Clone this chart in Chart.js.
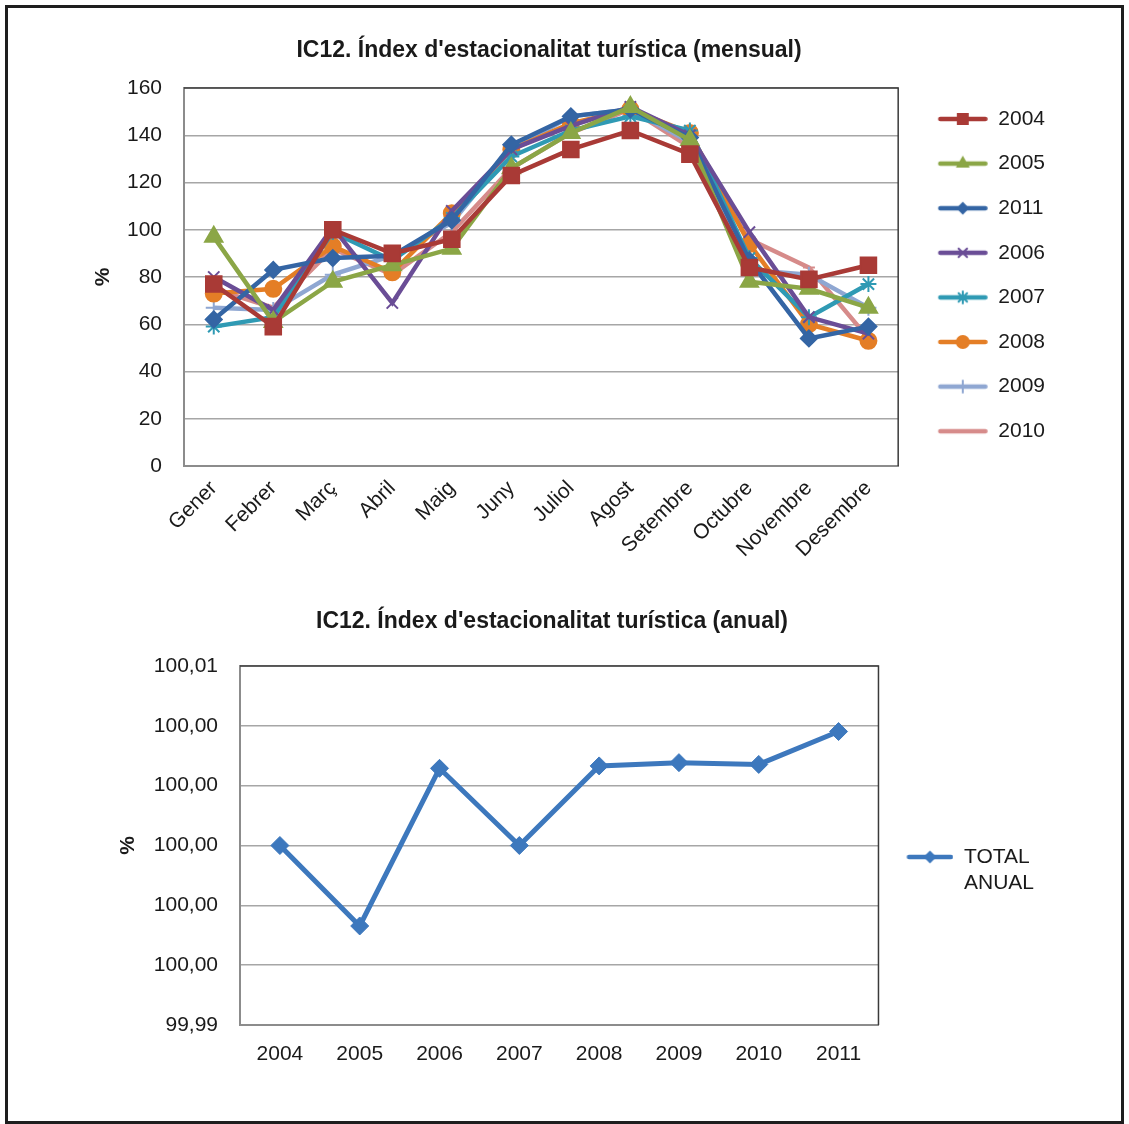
<!DOCTYPE html>
<html>
<head>
<meta charset="utf-8">
<script src="https://cdn.jsdelivr.net/npm/chart.js@4.4.1/dist/chart.umd.min.js"></script>
<style>
  html, body { margin: 0; padding: 0; background: #fff; }
  #frame { position: absolute; left: 5px; top: 5px; width: 1113px; height: 1113px; border: 3px solid #1e1e1e; }
  .box { position: absolute; }
  #boxMensual { left: 43px; top: 20px; width: 1012px; height: 566px; }
  #boxAnual { left: 60px; top: 592px; width: 984px; height: 493px; }
</style>
</head>
<body>
<div id="frame"></div>
<div class="box" id="boxMensual"><canvas id="chartMensual"></canvas></div>
<div class="box" id="boxAnual"><canvas id="chartAnual"></canvas></div>
<script>
// --- dades ---
const mesos = ['Gener', 'Febrer', 'Març', 'Abril', 'Maig', 'Juny', 'Juliol', 'Agost', 'Setembre', 'Octubre', 'Novembre', 'Desembre'];
const anys = ['2004', '2005', '2011', '2006', '2007', '2008', '2009', '2010'];
const v2004 = [77, 59, 100, 90, 96, 123, 134, 142, 132, 84, 79, 85];
const v2005 = [97, 61, 78, 85, 92, 126, 141, 152, 138, 78, 75, 67];
const v2011 = [62, 83, 88, 89, 104, 136, 148, 151, 139, 87, 54, 59];
const v2006 = [80, 66, 101, 69, 108, 134, 144, 152, 140, 99, 63, 56];
const v2007 = [59, 63, 99, 87, 105, 131, 142, 148, 142, 88, 63, 77];
const v2008 = [73, 75, 93, 82, 107, 134, 145, 151, 141, 94, 60, 53];
const v2009 = [67, 66, 81, 89, 103, 134, 148, 151, 137, 83, 81, 67];
const v2010 = [75, 67, 92, 81, 99, 126, 141, 151, 135, 96, 84, 54];
const yTicksMensual = [0, 20, 40, 60, 80, 100, 120, 140, 160];

const anysAnual = ['2004', '2005', '2006', '2007', '2008', '2009', '2010', '2011'];
const totalAnual = [100.0000, 99.99731, 100.00258, 100.0000, 100.00266, 100.00277, 100.00271, 100.00381];
const yTicksAnual = [99.994, 99.996, 99.998, 100.000, 100.002, 100.004, 100.006];
const yTickLabelsAnual = ['99,99', '100,00', '100,00', '100,00', '100,00', '100,00', '100,01'];

Chart.defaults.font.family = "'Liberation Sans', Arial, sans-serif";
Chart.defaults.font.size = 21;
Chart.defaults.color = '#1a1a1a';
Chart.defaults.animation = false;

const estils = [
  { data: v2004, color: '#A93A36', point: 'rect', r: 11, lr: 7 },
  { data: v2005, color: '#8BA646', point: 'triangle', r: 10, lr: 6 },
  { data: v2011, color: '#3465A4', point: 'rectRot', r: 8, lr: 5 },
  { data: v2006, color: '#6A4D96', point: 'crossRot', r: 8, lr: 6 },
  { data: v2007, color: '#2F9AB4', point: 'star', r: 8, lr: 6 },
  { data: v2008, color: '#E47E26', point: 'circle', r: 8, lr: 6 },
  { data: v2009, color: '#8FA7D2', point: 'cross', r: 8, lr: 6 },
  { data: v2010, color: '#D68B8A', point: 'line', r: 6, lr: 0 }
];

// icona de llegenda: línia + marcador
function legendIcon(color, style, radius, lead, len) {
  const c = document.createElement('canvas');
  c.width = lead + len;
  c.height = 22;
  const g = c.getContext('2d');
  g.strokeStyle = color;
  g.fillStyle = color;
  g.lineWidth = 4.5;
  g.lineCap = 'round';
  g.beginPath();
  g.moveTo(lead + 2.5, 11);
  g.lineTo(lead + len - 2.5, 11);
  g.stroke();
  if (style && radius > 0) {
    g.lineWidth = 2;
    Chart.helpers.drawPoint(g, { pointStyle: style, radius: radius, borderWidth: 2, rotation: 0 }, lead + len / 2, 11);
  }
  return c;
}

const marcPla = {
  id: 'marcPla',
  beforeDatasetsDraw(chart) {
    const { ctx, chartArea: a } = chart;
    ctx.save();
    ctx.strokeStyle = '#3a3a3a';
    ctx.lineWidth = 1.5;
    ctx.beginPath();
    ctx.moveTo(a.left, a.top);
    ctx.lineTo(a.right, a.top);
    ctx.lineTo(a.right, a.bottom);
    ctx.stroke();
    ctx.restore();
  }
};

new Chart(document.getElementById('chartMensual'), {
  type: 'line',
  data: {
    labels: mesos,
    datasets: estils.map((s, i) => ({
      label: anys[i],
      data: s.data,
      borderColor: s.color,
      backgroundColor: s.color,
      borderWidth: 4.5,
      pointStyle: s.point,
      pointRadius: s.r,
      pointBorderWidth: 2,
      pointBackgroundColor: s.color,
      pointBorderColor: s.color,
      tension: 0,
      legendIcon: legendIcon(s.color, s.point, s.lr, 16, 50)
    }))
  },
  options: {
    responsive: true,
    maintainAspectRatio: false,
    layout: { padding: 0 },
    plugins: {
      title: {
        display: true,
        text: "IC12. Índex d'estacionalitat turística (mensual)",
        font: { size: 23, weight: 'bold' },
        color: '#1a1a1a',
        padding: { top: 17.2, bottom: 23.2 }
      },
      legend: {
        position: 'right',
        align: 'start',
        fullSize: true,
        title: { display: true, text: ' ', padding: { top: 39.7, bottom: 0 } },
        labels: {
          usePointStyle: true,
          pointStyleWidth: 66,
          padding: 23.6,
          color: '#1a1a1a',
          generateLabels(chart) {
            return chart.data.datasets.map((d, i) => ({
              text: d.label,
              pointStyle: d.legendIcon,
              fillStyle: 'transparent',
              strokeStyle: 'transparent',
              lineWidth: 0,
              hidden: false,
              datasetIndex: i,
              fontColor: '#1a1a1a'
            }));
          }
        }
      },
      tooltip: { enabled: false }
    },
    scales: {
      x: {
        offset: true,
        grid: { display: false, drawTicks: false },
        border: { display: true, color: '#8c8c8c', width: 2 },
        ticks: { minRotation: 45, maxRotation: 45, padding: 10, color: '#1a1a1a', autoSkip: false },
        afterFit(scale) { scale.height = 120; }
      },
      y: {
        min: 0,
        max: 160,
        grid: { color: '#a6a6a6', lineWidth: 1.5, drawTicks: false },
        border: { display: true, color: '#8c8c8c', width: 2 },
        ticks: { padding: 22, color: '#1a1a1a' },
        afterBuildTicks(scale) { scale.ticks = yTicksMensual.map(v => ({ value: v })); },
        title: { display: true, text: '%', font: { size: 21, weight: 'bold' }, padding: { top: 47.4, bottom: 0 } },
        afterFit(scale) { scale.width = 141; }
      }
    }
  },
  plugins: [marcPla]
});

const colorAnual = '#3D78BD';
new Chart(document.getElementById('chartAnual'), {
  type: 'line',
  data: {
    labels: anysAnual,
    datasets: [{
      label: 'TOTAL ANUAL',
      data: totalAnual,
      borderColor: colorAnual,
      backgroundColor: colorAnual,
      borderWidth: 5,
      pointStyle: 'rectRot',
      pointRadius: 9,
      pointBorderWidth: 1,
      pointBackgroundColor: colorAnual,
      pointBorderColor: colorAnual,
      tension: 0
    }]
  },
  options: {
    responsive: true,
    maintainAspectRatio: false,
    layout: { padding: 0 },
    plugins: {
      title: {
        display: true,
        text: "IC12. Índex d'estacionalitat turística (anual)",
        font: { size: 23, weight: 'bold' },
        color: '#1a1a1a',
        padding: { top: 16.2, bottom: 30.2 }
      },
      legend: {
        position: 'right',
        fullSize: false,
        title: { display: true, text: ' ', padding: { top: 23.8, bottom: 0 } },
        labels: {
          usePointStyle: true,
          pointStyleWidth: 70,
          padding: 5,
          color: '#1a1a1a',
          generateLabels(chart) {
            const blanc = document.createElement('canvas');
            blanc.width = 70; blanc.height = 2;
            return [
              { text: 'TOTAL', pointStyle: legendIcon(colorAnual, 'rectRot', 5, 23, 47), fillStyle: 'transparent', strokeStyle: 'transparent', lineWidth: 0, hidden: false, datasetIndex: 0, fontColor: '#1a1a1a' },
              { text: 'ANUAL', pointStyle: blanc, fillStyle: 'transparent', strokeStyle: 'transparent', lineWidth: 0, hidden: false, datasetIndex: 0, fontColor: '#1a1a1a' }
            ];
          }
        }
      },
      tooltip: { enabled: false }
    },
    scales: {
      x: {
        offset: true,
        grid: { display: false, drawTicks: false },
        border: { display: true, color: '#8c8c8c', width: 2 },
        ticks: { padding: 17, color: '#1a1a1a', maxRotation: 0 },
        afterFit(scale) { scale.height = 60; }
      },
      y: {
        min: 99.994,
        max: 100.006,
        grid: { color: '#a6a6a6', lineWidth: 1.5, drawTicks: false },
        border: { display: true, color: '#8c8c8c', width: 2 },
        ticks: {
          padding: 22,
          color: '#1a1a1a',
          callback: (v, i) => yTickLabelsAnual[i]
        },
        afterBuildTicks(scale) { scale.ticks = yTicksAnual.map(v => ({ value: v })); },
        title: { display: true, text: '%', font: { size: 21, weight: 'bold' }, padding: { top: 55.4, bottom: 0 } },
        afterFit(scale) { scale.width = 180; }
      }
    }
  },
  plugins: [marcPla]
});
</script>
</body>
</html>
